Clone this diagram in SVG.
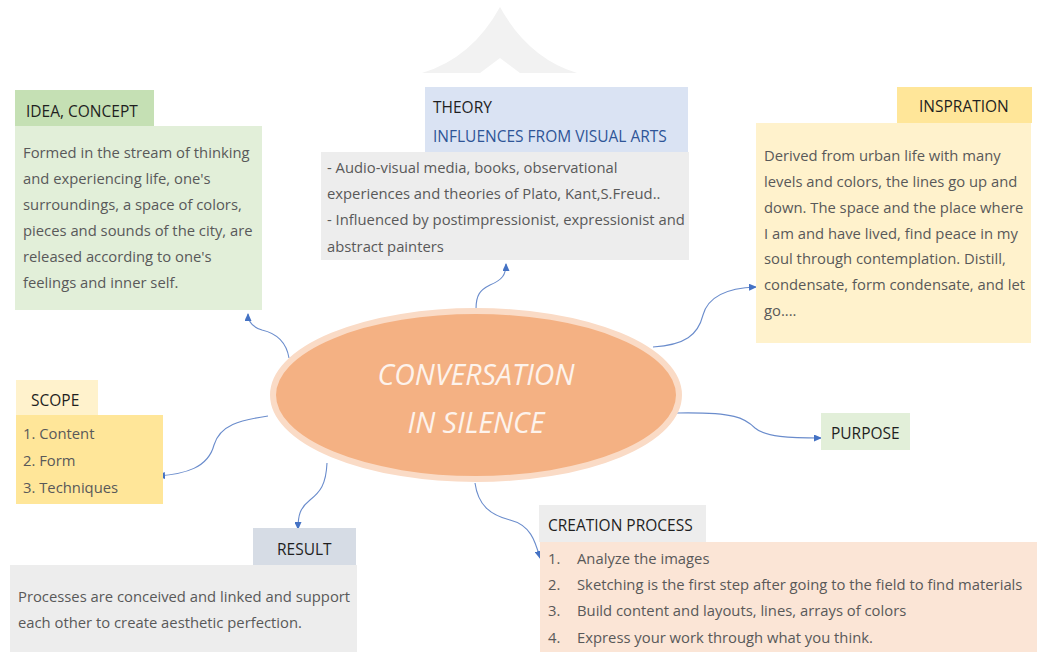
<svg xmlns="http://www.w3.org/2000/svg" width="1037" height="652" viewBox="0 0 1037 652">
<style>
.hd{font-family:"Open Sans","Noto Sans","Liberation Sans",sans-serif;font-size:15.5px;fill:#1f1f1f}
.bd{font-family:"Open Sans","Noto Sans","Liberation Sans",sans-serif;font-size:14.8px;fill:#595959}
.blue{fill:#2f5597}
.title{font-family:"Open Sans","Noto Sans","Liberation Sans",sans-serif;font-size:28.5px;font-style:italic;fill:#fdf3ec;text-anchor:middle}
.cn{fill:none;stroke:#6a8ccc;stroke-width:1.1}
</style>
<defs>
<marker id="ah" markerUnits="userSpaceOnUse" markerWidth="8" markerHeight="7" refX="7" refY="3.5" orient="auto">
<path d="M0,0 L8,3.5 L0,7 Z" fill="#4472c4"/>
</marker>
</defs>
<rect width="1037" height="652" fill="#ffffff"/>
<path d="M422,73 Q472,58 500,7 Q528,58 577,73 L520,73 L500,58 L480,73 Z" fill="#f2f2f2"/>

<g id="connectors">
<path class="cn" marker-end="url(#ah)" d="M289,358 C286,340 275,333 262,330 C252,327 248,322 248,314"/>
<path class="cn" marker-end="url(#ah)" d="M476,309 C476,295 480,290 490,285 C502,280 506,275 506,264"/>
<path class="cn" marker-end="url(#ah)" d="M653,347 C685,345 698,335 703,315 C708,297 725,288 756,287"/>
<path class="cn" marker-end="url(#ah)" d="M268,416 C240,420 220,425 214,445 C208,468 185,474 158,476"/>
<path class="cn" marker-end="url(#ah)" d="M327,463 C326,485 320,492 310,500 C300,508 298,515 298,529"/>
<path class="cn" marker-end="url(#ah)" d="M677,413 C735,412 745,418 755,428 C765,437 790,438 821,438"/>
<path class="cn" marker-end="url(#ah)" d="M475,483 C478,505 490,515 510,520 C530,525 535,540 540,558"/>
</g>

<g id="center">
<ellipse cx="476" cy="395" rx="203" ry="84" fill="#f4b183" stroke="#fadbc6" stroke-width="6"/>
<text class="title" x="476" y="385">CONVERSATION</text>
<text class="title" x="476" y="433">IN SILENCE</text>
</g>

<g id="idea">
<rect x="15" y="90" width="139" height="36" fill="#c5e0b4"/>
<rect x="15" y="126" width="247" height="184" fill="#e2efd9"/>
<text class="hd" x="26" y="117">IDEA, CONCEPT</text>
<text class="bd" x="23" y="158">Formed in the stream of thinking</text>
<text class="bd" x="23" y="184">and experiencing life, one's</text>
<text class="bd" x="23" y="210">surroundings, a space of colors,</text>
<text class="bd" x="23" y="236">pieces and sounds of the city, are</text>
<text class="bd" x="23" y="262">released according to one's</text>
<text class="bd" x="23" y="288">feelings and inner self.</text>
</g>

<g id="theory">
<rect x="425" y="87" width="263" height="65" fill="#dae3f3"/>
<rect x="321" y="152" width="368" height="108" fill="#ededed"/>
<text class="hd" x="433" y="113">THEORY</text>
<text class="hd blue" x="433" y="142">INFLUENCES FROM VISUAL ARTS</text>
<text class="bd" x="327" y="173">- Audio-visual media, books, observational</text>
<text class="bd" x="327" y="199">experiences and theories of Plato, Kant,S.Freud..</text>
<text class="bd" x="327" y="225">- Influenced by postimpressionist, expressionist and</text>
<text class="bd" x="327" y="252">abstract painters</text>
</g>

<g id="inspiration">
<rect x="897" y="87" width="135" height="36" fill="#ffe699"/>
<rect x="756" y="123" width="275" height="220" fill="#fff2cc"/>
<text class="hd" x="919" y="112">INSPRATION</text>
<text class="bd" x="764" y="161">Derived from urban life with many</text>
<text class="bd" x="764" y="187">levels and colors, the lines go up and</text>
<text class="bd" x="764" y="213">down. The space and the place where</text>
<text class="bd" x="764" y="239">I am and have lived, find peace in my</text>
<text class="bd" x="764" y="264">soul through contemplation. Distill,</text>
<text class="bd" x="764" y="290">condensate, form condensate, and let</text>
<text class="bd" x="764" y="316">go....</text>
</g>

<g id="scope">
<rect x="16" y="380" width="82" height="35" fill="#fff2cc"/>
<rect x="16" y="415" width="147" height="89" fill="#ffe699"/>
<text class="hd" x="31" y="406">SCOPE</text>
<text class="bd" x="23" y="439">1. Content</text>
<text class="bd" x="23" y="466">2. Form</text>
<text class="bd" x="23" y="493">3. Techniques</text>
</g>

<g id="purpose">
<rect x="821" y="413" width="89" height="37" fill="#e2efd9"/>
<text class="hd" x="831" y="439">PURPOSE</text>
</g>

<g id="result">
<rect x="253" y="528" width="103" height="37" fill="#d6dce5"/>
<rect x="10" y="565" width="347" height="87" fill="#ededed"/>
<text class="hd" x="277" y="555">RESULT</text>
<text class="bd" x="18" y="602">Processes are conceived and linked and support</text>
<text class="bd" x="18" y="628">each other to create aesthetic perfection.</text>
</g>

<g id="creation">
<rect x="539" y="505" width="167" height="37" fill="#ededed"/>
<rect x="540" y="542" width="497" height="110" fill="#fbe5d6"/>
<text class="hd" x="548" y="531">CREATION PROCESS</text>
<text class="bd" x="548" y="564">1.</text>
<text class="bd" x="577" y="564">Analyze the images</text>
<text class="bd" x="548" y="590">2.</text>
<text class="bd" x="577" y="590">Sketching is the first step after going to the field to find materials</text>
<text class="bd" x="548" y="616">3.</text>
<text class="bd" x="577" y="616">Build content and layouts, lines, arrays of colors</text>
<text class="bd" x="548" y="643">4.</text>
<text class="bd" x="577" y="643">Express your work through what you think.</text>
</g>
</svg>
